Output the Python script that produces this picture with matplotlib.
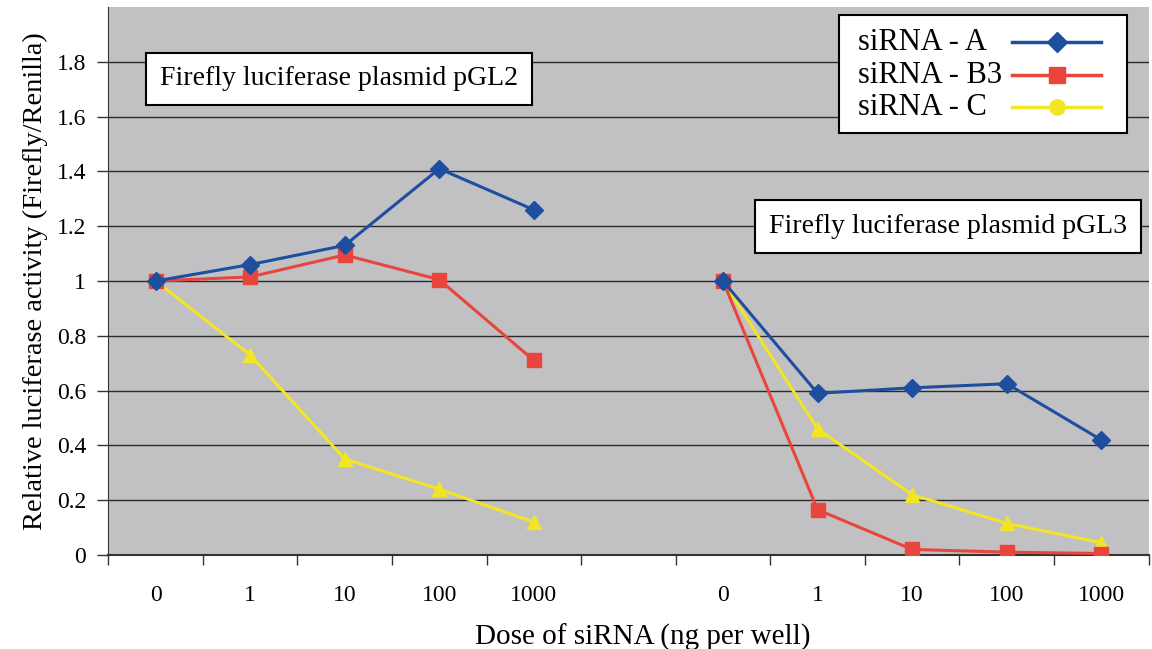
import matplotlib.pyplot as plt
from matplotlib.lines import Line2D
from matplotlib.patches import Rectangle

plt.rcParams['font.family'] = 'Liberation Serif'

# Dose categories for the two plasmids (slot 5 left empty as a gap)
doses = ['0', '1', '10', '100', '1000']

# pGL2 series
pgl2_a = [1.0, 1.06, 1.13, 1.41, 1.26]
pgl2_b3 = [1.0, 1.015, 1.095, 1.005, 0.71]
pgl2_c = [1.0, 0.73, 0.35, 0.24, 0.12]

# pGL3 series
pgl3_a = [1.0, 0.59, 0.61, 0.625, 0.42]
pgl3_b3 = [1.0, 0.165, 0.02, 0.01, 0.005]
pgl3_c = [1.0, 0.46, 0.22, 0.115, 0.045]

series_names = ['siRNA - A', 'siRNA - B3', 'siRNA - C']

yticks = [0, 0.2, 0.4, 0.6, 0.8, 1, 1.2, 1.4, 1.6, 1.8]
ytick_labels = ['0', '0.2', '0.4', '0.6', '0.8', '1', '1.2', '1.4', '1.6', '1.8']

blue = '#1d4f9e'
red = '#e8453c'
yellow = '#f2e624'

x_left = list(range(5))
x_right = list(range(6, 11))

fig = plt.figure(figsize=(11.52, 6.49), dpi=100)
ax = fig.add_axes([0.094, 0.145, 0.903, 0.844])
ax.set_facecolor('#c1c1c4')

for xs, a, b, c in [(x_left, pgl2_a, pgl2_b3, pgl2_c), (x_right, pgl3_a, pgl3_b3, pgl3_c)]:
    ax.plot(xs, a, '-D', color=blue, lw=2.2, ms=9, zorder=4)
    ax.plot(xs, b, '-s', color=red, lw=2.2, ms=10, zorder=3)
    ax.plot(xs, c, '-^', color=yellow, lw=2.2, ms=10, zorder=2)

ax.set_xlim(-0.5, 10.5)
ax.set_ylim(0, 2.0)
ax.set_yticks(yticks)
ax.set_yticklabels(ytick_labels, fontsize=17)
ax.yaxis.grid(True, color='#2a2a2a', lw=1)
ax.set_axisbelow(True)

# category labels under each point, tick marks at category boundaries
ax.set_xticks(x_left + x_right)
ax.set_xticklabels(doses + doses, fontsize=17)
ax.tick_params(axis='x', length=0, pad=22)
ax.set_xticks([i - 0.5 for i in range(12)], minor=True)
ax.tick_params(axis='x', which='minor', length=7, width=1, color='#333333')
ax.tick_params(axis='y', length=8, width=1, color='#333333', pad=8)

for side in ['top', 'right']:
    ax.spines[side].set_visible(False)
ax.spines['left'].set_color('#333333')
ax.spines['bottom'].set_color('#333333')
ax.spines['bottom'].set_linewidth(1.5)

ax.set_xlabel('Dose of siRNA (ng per well)', fontsize=21)
ax.xaxis.set_label_coords(0.514, -0.125)
ax.set_ylabel('Relative luciferase activity (Firefly/Renilla)', fontsize=20.5, labelpad=6)

box = dict(boxstyle='square,pad=0.5', facecolor='white', edgecolor='black', lw=1.5)
ax.text(0.050, 0.869, 'Firefly luciferase plasmid pGL2', transform=ax.transAxes,
        fontsize=20, va='center', ha='left', bbox=box)
ax.text(0.635, 0.599, 'Firefly luciferase plasmid pGL3', transform=ax.transAxes,
        fontsize=20, va='center', ha='left', bbox=box)

# legend box with left-aligned labels and line samples on the right
ax.add_patch(Rectangle((0.702, 0.770), 0.277, 0.215, transform=ax.transAxes,
                       facecolor='white', edgecolor='black', lw=1.5, zorder=6))
row_y = [0.936, 0.876, 0.817]
styles = [(blue, 'D', 10), (red, 's', 11), (yellow, 'o', 11)]
for name, yy, (col, mk, ms) in zip(series_names, row_y, styles):
    ax.text(0.721, yy, name, transform=ax.transAxes, fontsize=22,
            va='center', ha='left', zorder=7)
    ax.add_line(Line2D([0.869, 0.954], [yy, yy], transform=ax.transAxes,
                       color=col, lw=2.5, zorder=7))
    ax.add_line(Line2D([0.912], [yy], transform=ax.transAxes, color=col,
                       marker=mk, ms=ms, zorder=8))

fig.savefig('out.png', dpi=100, facecolor='white')
